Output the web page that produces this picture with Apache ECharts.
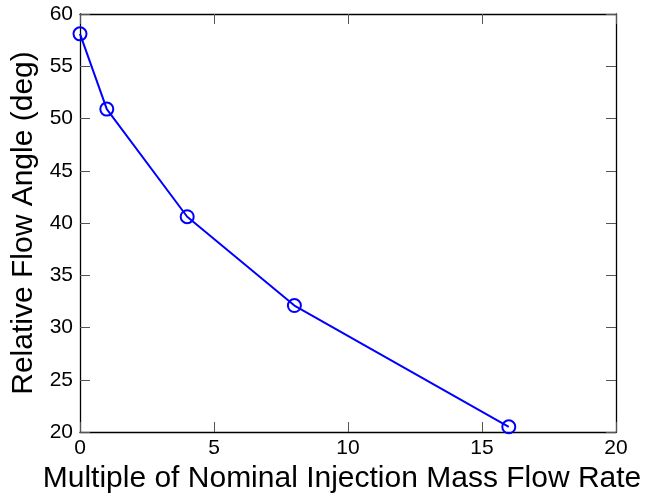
<!DOCTYPE html>
<html><head><meta charset="utf-8">
<script src="https://cdn.jsdelivr.net/npm/echarts@6/dist/echarts.min.js"></script>
<style>html,body{margin:0;padding:0;background:#fff}#c{width:645px;height:497px}</style>
</head><body><div id="c"></div>
<script>
const xValues = [0, 1, 4, 8, 16];
const yValues = [58.1, 50.9, 40.6, 32.1, 20.5];
const xTitle = 'Multiple of Nominal Injection Mass Flow Rate';
const yTitle = 'Relative Flow Angle (deg)';

const chart = echarts.init(document.getElementById('c'), null, {renderer: 'canvas'});
const font = 'Liberation Sans, Arial, sans-serif';
const axisLine = () => ({show: true, onZero: false, lineStyle: {color: '#000', width: 1.3}});
const tick = () => ({show: true, inside: true, length: 10, lineStyle: {color: '#555', width: 1}});
chart.setOption({
  animation: false,
  grid: {left: 80, top: 14, right: 29, bottom: 65, containLabel: false, outerBoundsMode: 'none'},
  xAxis: [{
    type: 'value', min: 0, max: 20, interval: 5, position: 'bottom',
    axisLine: axisLine(), axisTick: tick(), splitLine: {show: false},
    axisLabel: {color: '#000', fontSize: 21, fontFamily: font, margin: 6},
    name: xTitle, nameLocation: 'middle', nameGap: 30,
    nameTextStyle: {color: '#000', fontSize: 30, fontFamily: font, padding: [0, 12, 0, 0]}
  }, {
    type: 'value', min: 0, max: 20, interval: 5, position: 'top',
    axisLine: axisLine(), axisTick: tick(), splitLine: {show: false}, axisLabel: {show: false}
  }],
  yAxis: [{
    type: 'value', min: 20, max: 60, interval: 5, position: 'left',
    axisLine: axisLine(), axisTick: tick(), splitLine: {show: false},
    axisLabel: {color: '#000', fontSize: 21, fontFamily: font, margin: 7},
    name: yTitle, nameLocation: 'middle', nameGap: 40, nameRotate: 90,
    nameTextStyle: {color: '#000', fontSize: 30, fontFamily: font}
  }, {
    type: 'value', min: 20, max: 60, interval: 5, position: 'right',
    axisLine: axisLine(), axisTick: tick(), splitLine: {show: false}, axisLabel: {show: false}
  }],
  series: [{
    type: 'line',
    data: xValues.map((x, i) => [x, yValues[i]]),
    symbol: 'circle', symbolSize: 13, showAllSymbol: true,
    lineStyle: {color: '#0000ff', width: 2},
    itemStyle: {color: 'rgba(0,0,0,0)', borderColor: '#0000ff', borderWidth: 2},
    emphasis: {disabled: true}
  }]
});
</script></body></html>
